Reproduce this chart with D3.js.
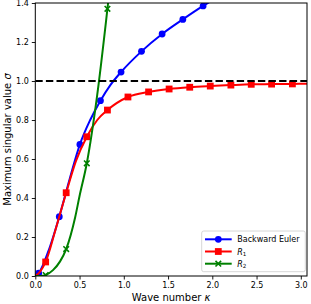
<!DOCTYPE html>
<html>
<head>
<meta charset="utf-8">
<script src="https://cdn.jsdelivr.net/npm/d3@7"></script>
<style>
  body { margin: 0; background: #fff; }
  text { font-family: "DejaVu Sans", sans-serif; fill: #000; }
</style>
</head>
<body>
<svg width="311" height="304"></svg>
<script>
const width = 311
const height = 304
const margin = { left: 35.3, right: 4, top: 3, bottom: 28 }

// marker positions
const kappaBlue = [0.038, 0.271, 0.504, 0.736, 0.969, 1.2, 1.433, 1.667, 1.896]
const sigmaBlue = [0.014, 0.304, 0.675, 0.899, 1.046, 1.152, 1.241, 1.316, 1.385]
const kappaRed = [0.117, 0.349, 0.582, 0.815, 1.047, 1.28, 1.512, 1.745, 1.977, 2.21, 2.44, 2.67, 2.905]
const sigmaRed = [0.072, 0.427, 0.714, 0.851, 0.918, 0.944, 0.959, 0.968, 0.974, 0.979, 0.983, 0.984, 0.985]
const kappaGreen = [0.117, 0.349, 0.582, 0.815]
const sigmaGreen = [0.005, 0.138, 0.578, 1.37]

// extra points along the smooth curves
const blueLineKappa = [0, 0.15, 0.39, 0.62, 0.85, 2.1]
const blueLineSigma = [0, 0.13, 0.5, 0.8, 0.98, 1.44]
const redLineKappa = [0, 0.05, 0.23, 0.46, 0.7, 3.08]
const redLineSigma = [0, 0.02, 0.24, 0.59, 0.8, 0.986]
const greenLineKappa = [0, 0.06, 0.2, 0.28, 0.45, 0.5, 0.7, 0.83]
const greenLineSigma = [0, 0.0, 0.03, 0.075, 0.3, 0.41, 0.93, 1.43]

const xTicks = [0, 0.5, 1.0, 1.5, 2.0, 2.5, 3.0]
const yTicks = [0, 0.2, 0.4, 0.6, 0.8, 1.0, 1.2, 1.4]

const svg = d3.select('svg')

const x = d3.scaleLinear().domain([0, 3.07]).range([margin.left, width - margin.right])
const y = d3.scaleLinear().domain([0, 1.4]).range([height - margin.bottom, margin.top])

svg.append('defs').append('clipPath').attr('id', 'plot')
  .append('rect')
  .attr('x', margin.left).attr('y', margin.top)
  .attr('width', width - margin.right - margin.left)
  .attr('height', height - margin.bottom - margin.top)

function merge(ka, sa, kb, sb) {
  const pts = ka.map((k, i) => [k, sa[i]]).concat(kb.map((k, i) => [k, sb[i]]))
  return pts.sort((a, b) => a[0] - b[0])
}

const series = [
  { name: 'blue', color: '#0000ff', marker: 'circle',
    line: merge(kappaBlue, sigmaBlue, blueLineKappa, blueLineSigma),
    pts: kappaBlue.map((k, i) => [k, sigmaBlue[i]]) },
  { name: 'red', color: '#ff0000', marker: 'square',
    line: merge(kappaRed, sigmaRed, redLineKappa, redLineSigma),
    pts: kappaRed.map((k, i) => [k, sigmaRed[i]]) },
  { name: 'green', color: '#008000', marker: 'x',
    line: merge(kappaGreen, sigmaGreen, greenLineKappa, greenLineSigma),
    pts: kappaGreen.map((k, i) => [k, sigmaGreen[i]]) }
]

const line = d3.line()
  .x(d => x(d[0]))
  .y(d => y(d[1]))
  .curve(d3.curveMonotoneX)

const plot = svg.append('g').attr('clip-path', 'url(#plot)')

function drawMarker(g, type, cx, cy, color) {
  if (type === 'circle') {
    g.append('circle').attr('cx', cx).attr('cy', cy).attr('r', 3.4).attr('fill', color)
  } else if (type === 'square') {
    g.append('rect').attr('x', cx - 3.4).attr('y', cy - 3.4)
      .attr('width', 6.8).attr('height', 6.8).attr('fill', color)
  } else {
    g.append('path')
      .attr('d', `M${cx - 2.8},${cy - 2.8}L${cx + 2.8},${cy + 2.8}M${cx - 2.8},${cy + 2.8}L${cx + 2.8},${cy - 2.8}`)
      .attr('stroke', color).attr('stroke-width', 1.6).attr('fill', 'none')
  }
}

series.forEach(s => {
  plot.append('path')
    .attr('d', line(s.line))
    .attr('fill', 'none')
    .attr('stroke', s.color)
    .attr('stroke-width', 2)
  s.pts.forEach(p => drawMarker(plot, s.marker, x(p[0]), y(p[1]), s.color))
})

// dashed sigma = 1 line
plot.append('line')
  .attr('x1', x(0)).attr('x2', x(3.07))
  .attr('y1', y(1)).attr('y2', y(1))
  .attr('stroke', '#000')
  .attr('stroke-width', 2)
  .attr('stroke-dasharray', '7.4,3.2')

// axes
const xAxis = svg.append('g')
  .attr('transform', `translate(0,${height - margin.bottom})`)
  .call(d3.axisBottom(x).tickValues(xTicks).tickFormat(d3.format('.1f')).tickSize(3.5).tickPadding(3))
const yAxis = svg.append('g')
  .attr('transform', `translate(${margin.left},0)`)
  .call(d3.axisLeft(y).tickValues(yTicks).tickFormat(d3.format('.1f')).tickSize(3.5).tickPadding(3))
;[xAxis, yAxis].forEach(a => {
  a.select('.domain').remove()
  a.selectAll('text').attr('font-size', 8).attr('font-family', 'DejaVu Sans').attr('fill', '#222')
  a.selectAll('line').attr('stroke', '#000').attr('stroke-width', 0.9)
})

svg.append('rect')
  .attr('x', margin.left).attr('y', margin.top)
  .attr('width', width - margin.right - margin.left)
  .attr('height', height - margin.bottom - margin.top)
  .attr('fill', 'none')
  .attr('stroke', '#000')
  .attr('stroke-width', 1)

// axis labels
const xl = svg.append('text')
  .attr('x', (margin.left + width - margin.right) / 2)
  .attr('y', 301)
  .attr('text-anchor', 'middle')
  .attr('font-size', 10)
xl.append('tspan').text('Wave number ')
xl.append('tspan').attr('font-style', 'italic').text('κ')

const yl = svg.append('text')
  .attr('transform', `translate(11,${(margin.top + height - margin.bottom) / 2}) rotate(-90)`)
  .attr('text-anchor', 'middle')
  .attr('font-size', 10)
yl.append('tspan').text('Maximum singular value ')
yl.append('tspan').attr('font-style', 'italic').text('σ')

// legend
const legend = svg.append('g')
legend.append('rect')
  .attr('x', 201.7).attr('y', 231)
  .attr('width', 103.6).attr('height', 40.7)
  .attr('rx', 2)
  .attr('fill', '#fff').attr('fill-opacity', 0.8)
  .attr('stroke', '#ccc').attr('stroke-width', 0.8)

const legendLabels = [['Backward Euler'], ['R', '1'], ['R', '2']]
series.forEach((s, i) => {
  const ly = 239.3 + i * 12.2
  legend.append('line')
    .attr('x1', 205).attr('x2', 231.7)
    .attr('y1', ly).attr('y2', ly)
    .attr('stroke', s.color).attr('stroke-width', 2)
  drawMarker(legend, s.marker, 218.3, ly, s.color)
  const t = legend.append('text')
    .attr('x', 237.3).attr('y', ly + 3)
    .attr('font-size', 8)
  const lab = legendLabels[i]
  if (lab.length === 1) {
    t.text(lab[0])
  } else {
    t.append('tspan').attr('font-style', 'italic').text(lab[0])
    t.append('tspan').attr('font-size', 5.6).attr('dy', 1.6).text(lab[1])
  }
})
</script>
</body>
</html>
